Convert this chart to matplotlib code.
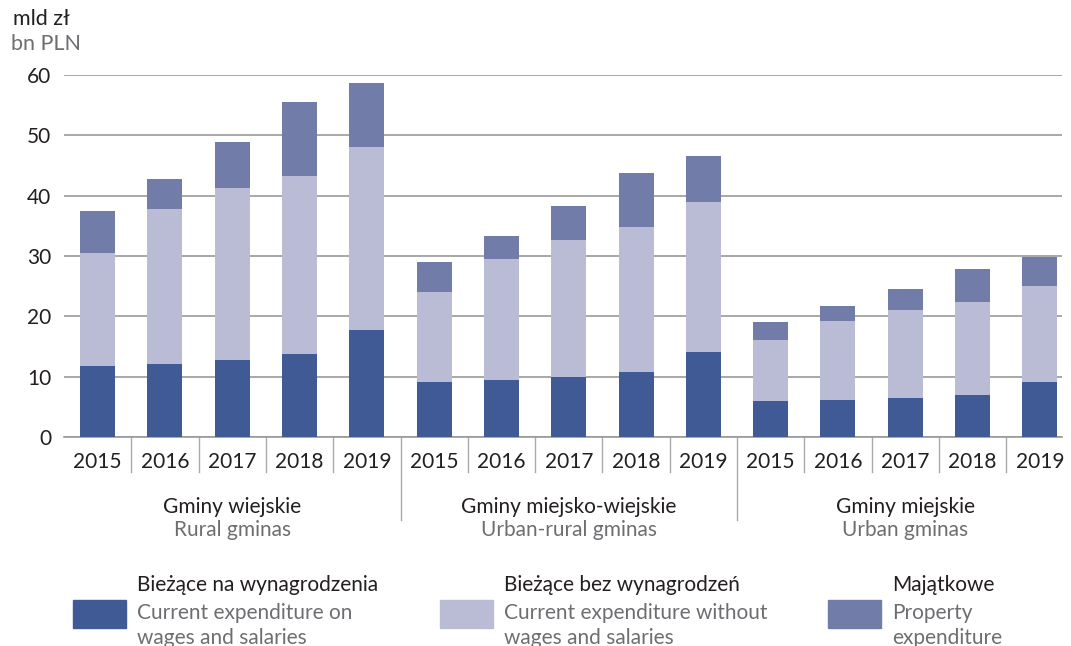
import matplotlib.pyplot as plt
import matplotlib.transforms as mtransforms
from matplotlib.patches import Rectangle
import numpy as np

plt.rcParams['font.family'] = ['Lato', 'DejaVu Sans']

years = ["2015", "2016", "2017", "2018", "2019"]
groups_pl = ["Gminy wiejskie", "Gminy miejsko-wiejskie", "Gminy miejskie"]
groups_en = ["Rural gminas", "Urban-rural gminas", "Urban gminas"]

# values in bn PLN, per group, years 2015-2019
wages = [11.8, 12.1, 12.8, 13.8, 17.7,
         9.1, 9.4, 9.9, 10.8, 14.1,
         6.0, 6.1, 6.5, 7.0, 9.1]
other_current = [18.7, 25.7, 28.5, 29.5, 30.4,
                 14.9, 20.1, 22.8, 24.0, 24.9,
                 10.1, 13.1, 14.6, 15.4, 15.9]
property_exp = [7.0, 5.0, 7.6, 12.2, 10.6,
                5.0, 3.8, 5.6, 9.0, 7.6,
                3.0, 2.5, 3.4, 5.4, 4.8]

names_pl = ["Bieżące na wynagrodzenia", "Bieżące bez wynagrodzeń", "Majątkowe"]
names_en = ["Current expenditure on\nwages and salaries",
            "Current expenditure without\nwages and salaries",
            "Property\nexpenditure"]
colors = ["#3f5a94", "#babcd6", "#717ca9"]

W, H = 1071, 646
slot = 67.3
fig = plt.figure(figsize=(W / 100, H / 100), dpi=100)
ax = fig.add_axes([64 / W, (H - 437) / H, (1062 - 64) / W, 362 / H])

x = np.arange(len(wages))
w = 0.52
bottom = np.zeros(len(x))
for vals, c in zip([wages, other_current, property_exp], colors):
    ax.bar(x, vals, w, bottom=bottom, color=c, zorder=3)
    bottom += np.array(vals)

ax.set_xlim(-0.5, -0.5 + (1062 - 64) / slot)
ax.set_ylim(0, 60)
ax.set_yticks(range(0, 61, 10))
ax.yaxis.grid(True, color="#999999", linewidth=1.2, zorder=0)
ax.tick_params(axis="y", length=0, labelsize=15, pad=9, labelcolor="#231f20")
for s in ["top", "right", "left"]:
    ax.spines[s].set_visible(False)
ax.spines["bottom"].set_color("#999999")
ax.spines["bottom"].set_linewidth(1.2)

ax.set_xticks(x)
ax.set_xticklabels(years * 3, fontsize=15, color="#231f20")
ax.tick_params(axis="x", length=0, pad=11)

trans = mtransforms.blended_transform_factory(ax.transData, ax.transAxes)
for b in np.arange(0.5, len(x) - 1, 1.0):
    if int(b + 0.5) % 5 == 0:
        y1 = -83 / 362
    else:
        y1 = -35 / 362
    ax.plot([b, b], [0, y1], color="#aaaaaa", linewidth=1.0,
            transform=trans, clip_on=False)

for i, (gp, ge) in enumerate(zip(groups_pl, groups_en)):
    xc = i * 5 + 2
    ax.text(xc, -70 / 362, gp, transform=trans, ha="center", va="center",
            fontsize=15, color="#231f20")
    ax.text(xc, -93 / 362, ge, transform=trans, ha="center", va="center",
            fontsize=15, color="#6d6e71")

fig.text(13 / W, 1 - 19 / H, "mld zł", fontsize=15.5, color="#231f20", va="center")
fig.text(11 / W, 1 - 44 / H, "bn PLN", fontsize=15.5, color="#6d6e71", va="center")

# legend
leg_x = [73, 440, 828]
for lx, c, npl, nen in zip(leg_x, colors, names_pl, names_en):
    fig.patches.append(Rectangle((lx / W, 1 - 628 / H), 53 / W, 28 / H,
                                 transform=fig.transFigure, color=c))
    fig.text((lx + 64) / W, 1 - 585 / H, npl, fontsize=15, color="#231f20", va="center")
    fig.text((lx + 64) / W, 1 - 603 / H, nen, fontsize=15, color="#6d6e71",
             va="top", linespacing=1.3)

fig.savefig("out.png", dpi=100)
